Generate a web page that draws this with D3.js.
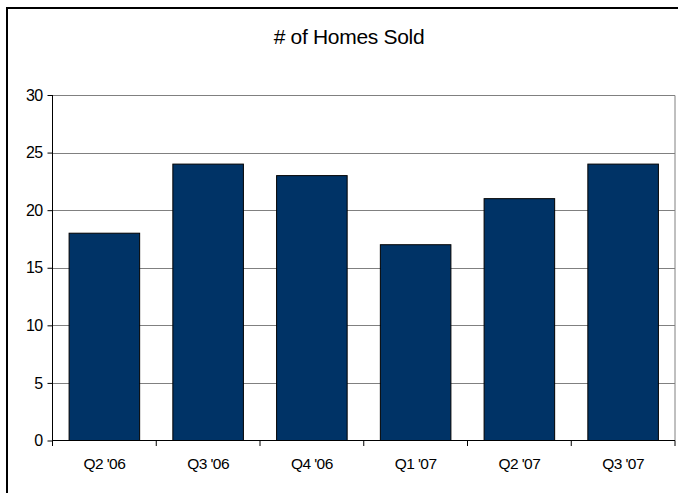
<!DOCTYPE html>
<html>
<head>
<meta charset="utf-8">
<script src="https://cdn.jsdelivr.net/npm/d3@7"></script>
<style>
  html, body { margin: 0; padding: 0; background: #fff; }
  svg { display: block; font-family: Arial, "Liberation Sans", sans-serif; }
</style>
</head>
<body>
<svg id="chart" width="678" height="493"></svg>
<script>
// Quarterly homes sold
const quarters = ["Q2 '06", "Q3 '06", "Q4 '06", "Q1 '07", "Q2 '07", "Q3 '07"];
const homesSold = [18, 24, 23, 17, 21, 24];
const yTicks = [0, 5, 10, 15, 20, 25, 30];
const chartTitle = "# of Homes Sold";

const svg = d3.select("#chart");
const plot = { left: 52.5, right: 675, top: 95, bottom: 440.5 };

// Outer frame
svg.append("rect")
  .attr("x", 7).attr("y", 8)
  .attr("width", 690).attr("height", 510)
  .attr("fill", "none").attr("stroke", "#000").attr("stroke-width", 2);

// Title
svg.append("text")
  .attr("x", 349).attr("y", 44)
  .attr("text-anchor", "middle")
  .attr("font-size", 21)
  .attr("letter-spacing", -0.3)
  .attr("fill", "#000")
  .text(chartTitle);

const x = d3.scaleBand()
  .domain(quarters)
  .range([plot.left, plot.right])
  .paddingInner(0.32)
  .paddingOuter(0.16);

const y = d3.scaleLinear()
  .domain([0, 30])
  .range([plot.bottom, plot.top]);

// Horizontal gridlines
svg.append("g")
  .selectAll("line")
  .data(yTicks.filter(d => d > 0))
  .join("line")
  .attr("x1", plot.left).attr("x2", plot.right)
  .attr("y1", d => Math.round(y(d)) + 0.5).attr("y2", d => Math.round(y(d)) + 0.5)
  .attr("stroke", "#808080").attr("stroke-width", 1);

// Right edge of plot area
svg.append("line")
  .attr("x1", plot.right).attr("x2", plot.right)
  .attr("y1", Math.round(y(30)) + 0.5).attr("y2", plot.bottom)
  .attr("stroke", "#808080").attr("stroke-width", 1);

// Bars
svg.append("g")
  .selectAll("rect")
  .data(quarters.map((q, i) => ({ q, v: homesSold[i] })))
  .join("rect")
  .attr("x", d => x(d.q))
  .attr("y", d => y(d.v))
  .attr("width", x.bandwidth())
  .attr("height", d => y(0) - y(d.v))
  .attr("fill", "#003366")
  .attr("stroke", "#000")
  .attr("stroke-width", 1);

// Y axis
const yAxis = svg.append("g")
  .attr("transform", `translate(${plot.left},0)`)
  .call(d3.axisLeft(y).tickValues(yTicks).tickSize(5).tickPadding(5));
yAxis.select(".domain").attr("stroke", "#000").attr("d", `M0,${plot.top}V${plot.bottom + 5.5}`);
yAxis.selectAll("text").attr("font-size", 16).attr("fill", "#000")
  .attr("font-family", "Arial, 'Liberation Sans', sans-serif").attr("letter-spacing", -0.6);

// X axis: ticks on the category boundaries, labels centered under bars
const xAxis = svg.append("g").attr("transform", `translate(0,${plot.bottom})`);
xAxis.append("line")
  .attr("x1", plot.left).attr("x2", plot.right)
  .attr("stroke", "#000");
const boundaries = quarters.map(q => x(q) - x.step() * x.paddingInner() / 2).concat([plot.right]);
xAxis.selectAll("line.tick")
  .data(boundaries)
  .join("line")
  .attr("class", "tick")
  .attr("x1", d => d).attr("x2", d => d)
  .attr("y1", 0).attr("y2", 5.5)
  .attr("stroke", "#000");
xAxis.selectAll("text")
  .data(quarters)
  .join("text")
  .attr("x", d => x(d) + x.bandwidth() / 2)
  .attr("y", 28.5)
  .attr("text-anchor", "middle")
  .attr("font-size", 15.5)
  .attr("letter-spacing", -0.6)
  .attr("fill", "#000")
  .text(d => d);
</script>
</body>
</html>
